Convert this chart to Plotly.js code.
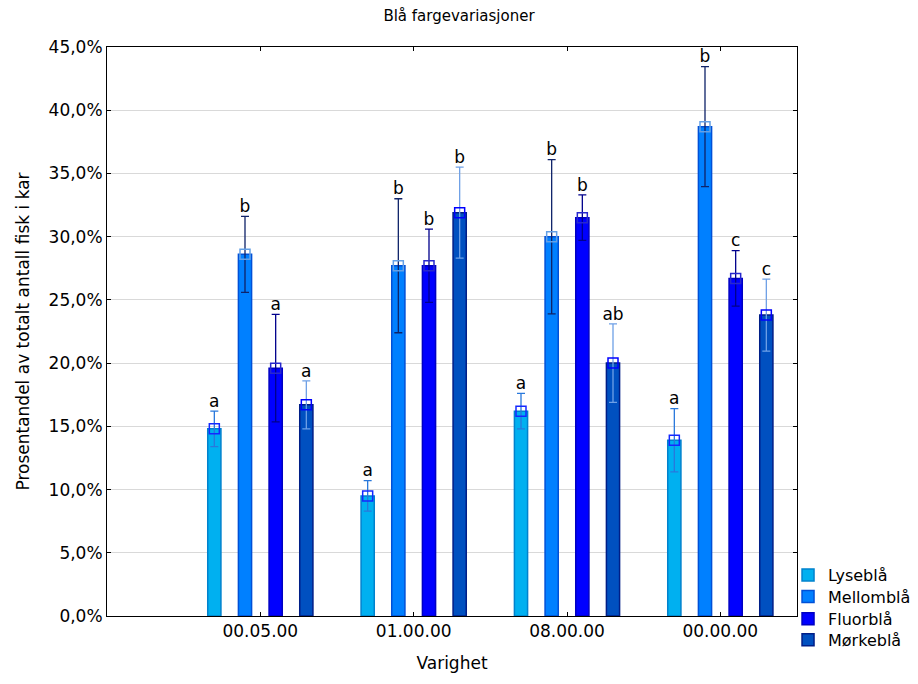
<!DOCTYPE html>
<html>
<head>
<meta charset="utf-8">
<script src="https://cdn.plot.ly/plotly-3.0.1.min.js"></script>
<style>html,body{margin:0;padding:0;background:#fff;}#chart{width:918px;height:684px;}</style>
</head>
<body>
<div id="chart"></div>
<script>
const categories = ['00.05.00', '01.00.00', '08.00.00', '00.00.00'];
const seriesNames = ['Lyseblå', 'Mellomblå', 'Fluorblå', 'Mørkeblå'];

const lyseblaa = [14.8, 9.5, 16.2, 13.9];
const lyseblaaErr = [1.4, 1.2, 1.4, 2.5];
const lyseblaaLetters = ['a', 'a', 'a', 'a'];

const mellomblaa = [28.6, 27.7, 30.0, 38.7];
const mellomblaaErr = [3.0, 5.3, 6.1, 4.75];
const mellomblaaLetters = ['b', 'b', 'b', 'b'];

const fluorblaa = [19.6, 27.7, 31.5, 26.7];
const fluorblaaErr = [4.25, 2.9, 1.8, 2.2];
const fluorblaaLetters = ['a', 'b', 'b', 'c'];

const morkeblaa = [16.7, 31.9, 20.0, 23.8];
const morkeblaaErr = [1.9, 3.6, 3.1, 2.85];
const morkeblaaLetters = ['a', 'b', 'ab', 'c'];

const values = [lyseblaa, mellomblaa, fluorblaa, morkeblaa];
const errors = [lyseblaaErr, mellomblaaErr, fluorblaaErr, morkeblaaErr];
const letters = [lyseblaaLetters, mellomblaaLetters, fluorblaaLetters, morkeblaaLetters];

const styles = [
  {fill: 'rgb(0,176,240)', border: 'rgb(0,130,205)', marker: 'rgb(20,40,255)', err: 'rgb(40,120,220)'},
  {fill: 'rgb(0,128,255)', border: 'rgb(0,80,215)', marker: 'rgb(100,160,230)', err: 'rgb(15,35,105)'},
  {fill: 'rgb(0,0,255)', border: 'rgb(0,0,195)', marker: 'rgb(40,40,205)', err: 'rgb(0,0,140)'},
  {fill: 'rgb(0,80,192)', border: 'rgb(0,30,135)', marker: 'rgb(0,0,255)', err: 'rgb(110,160,230)'}
];

const FONT = 'DejaVu Sans, Liberation Sans, Arial, sans-serif';
const legendIds = ['legend', 'legend2', 'legend3', 'legend4'];
const traces = [];
for (let i = 0; i < 4; i++) {
  traces.push({
    type: 'bar', name: seriesNames[i], x: categories, y: values[i],
    offsetgroup: 'g' + i, legend: legendIds[i],
    marker: {color: styles[i].fill, line: {color: styles[i].border, width: 1.5}},
    error_y: {type: 'data', array: errors[i], visible: true, color: styles[i].err, thickness: 1.3, width: 4},
    hoverinfo: 'skip'
  });
}
for (let i = 0; i < 4; i++) {
  traces.push({
    type: 'scatter', mode: 'markers', x: categories, y: values[i], showlegend: false,
    offsetgroup: 'g' + i, alignmentgroup: 'a',
    marker: {symbol: 'square-open', size: 10, color: styles[i].marker, line: {width: 1.5, color: styles[i].marker}},
    hoverinfo: 'skip'
  });
  traces.push({
    type: 'scatter', mode: 'text', x: categories,
    y: values[i].map((v, k) => v + errors[i][k]),
    text: letters[i], textposition: 'top center', showlegend: false,
    offsetgroup: 'g' + i, alignmentgroup: 'a',
    textfont: {family: FONT, size: 17, color: '#000'},
    hoverinfo: 'skip', cliponaxis: false
  });
}

const legendY = [0.072, 0.034, -0.005, -0.042];
const layout = {
  width: 918, height: 684,
  margin: {l: 107, r: 121, t: 47, b: 68, autoexpand: false},
  paper_bgcolor: '#fff', plot_bgcolor: '#fff',
  font: {family: FONT, size: 17, color: '#000'},
  title: {text: 'Blå fargevariasjoner', font: {family: FONT, size: 15}, x: 0.5, xanchor: 'center', y: 0.977, yanchor: 'middle'},
  barmode: 'group', bargap: 0.2, bargroupgap: 0.57,
  scattermode: 'group', scattergap: 0.2,
  separators: ', ',
  xaxis: {
    type: 'category', range: [-1, 3.5],
    showline: true, linecolor: '#000', linewidth: 1, mirror: 'ticks',
    ticks: 'inside', ticklen: 4, tickcolor: '#000',
    showgrid: false, zeroline: false,
    tickfont: {family: FONT, size: 17},
    title: {text: 'Varighet', font: {family: FONT, size: 17}, standoff: 16}
  },
  yaxis: {
    range: [0, 45], dtick: 5, tick0: 0, tickformat: '.1f', ticksuffix: '%',
    showline: true, linecolor: '#000', linewidth: 1, mirror: 'ticks',
    ticks: 'inside', ticklen: 4, tickcolor: '#000',
    showgrid: true, gridcolor: '#d9d9d9', gridwidth: 1, zeroline: false,
    tickfont: {family: FONT, size: 17},
    title: {text: 'Prosentandel av totalt antall fisk i kar', font: {family: FONT, size: 17}, standoff: 14}
  },
  showlegend: true
};
legendIds.forEach((id, i) => {
  layout[id] = {
    x: 0.987, xanchor: 'left', y: legendY[i], yanchor: 'middle',
    font: {family: FONT, size: 16}, bgcolor: 'rgba(0,0,0,0)', itemwidth: 30
  };
});

Plotly.newPlot('chart', traces, layout, {displayModeBar: false, staticPlot: true});
</script>
</body>
</html>
